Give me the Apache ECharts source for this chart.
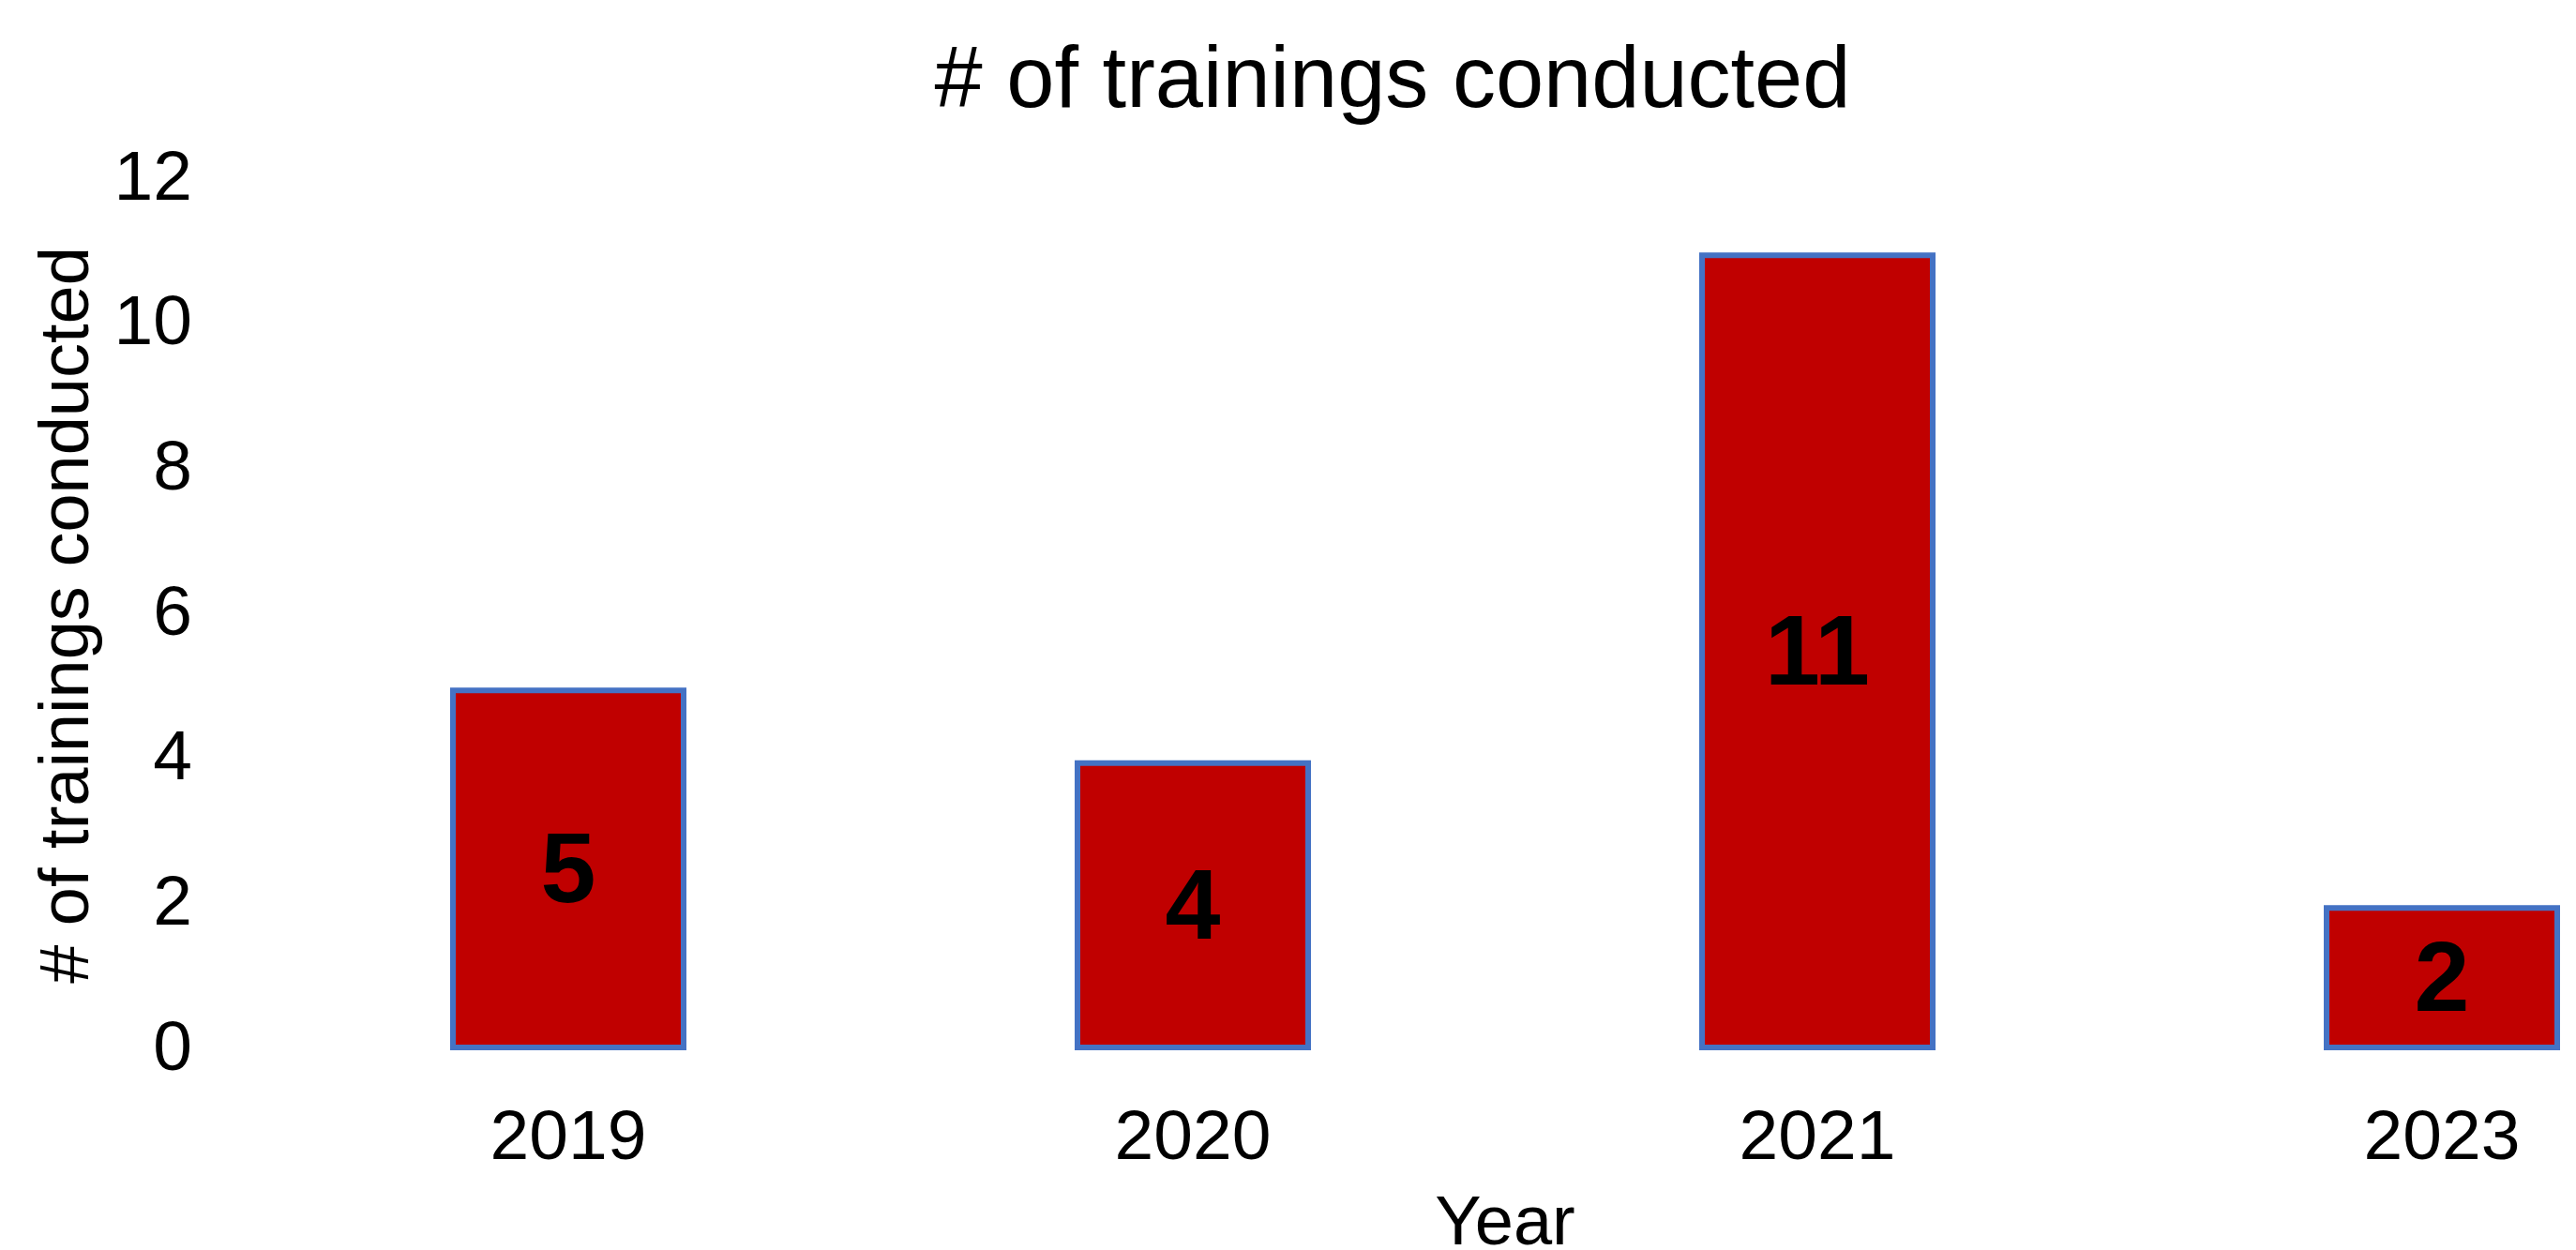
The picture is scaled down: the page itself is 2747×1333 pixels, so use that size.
<!DOCTYPE html>
<html>
<head>
<meta charset="utf-8">
<script src="https://cdn.jsdelivr.net/npm/echarts@6/dist/echarts.min.js"></script>
<style>
  html, body { margin: 0; padding: 0; background: #fff; }
  #chart { width: 2747px; height: 1333px; }
</style>
</head>
<body>
<div id="chart"></div>
<script>
const years = ["2019", "2020", "2021", "2023"];
const trainings = [5, 4, 11, 2];
const yTicks = [0, 2, 4, 6, 8, 10, 12];

const font = "'Liberation Sans', Arial, sans-serif";
const chart = echarts.init(document.getElementById("chart"), null, { renderer: "canvas" });

chart.setOption({
  animation: false,
  backgroundColor: "#fff",
  textStyle: { fontFamily: font },
  title: {
    text: "# of trainings conducted",
    left: 1480,
    top: 38,
    textAlign: "center",
    textStyle: { fontFamily: font, fontSize: 92, fontWeight: "normal", color: "#000" }
  },
  // the axes run past the right edge of the picture, like the cropped original
  grid: { left: 273, top: 192, width: 2664, height: 928, outerBoundsMode: "none", containLabel: false },
  xAxis: {
    type: "category",
    data: years,
    name: "Year",
    nameLocation: "middle",
    nameGap: 150,
    nameTextStyle: { fontFamily: font, fontSize: 74, color: "#000" },
    axisLine: { show: false },
    axisTick: { show: false },
    axisLabel: { fontFamily: font, fontSize: 75, color: "#000", margin: 58 }
  },
  yAxis: {
    type: "value",
    min: yTicks[0],
    max: yTicks[yTicks.length - 1],
    interval: 2,
    name: "# of trainings conducted",
    nameLocation: "middle",
    nameGap: 152,
    nameTextStyle: { fontFamily: font, fontSize: 74, color: "#000" },
    axisLine: { show: false },
    axisTick: { show: false },
    splitLine: { show: false },
    axisLabel: { fontFamily: font, fontSize: 75, color: "#000", margin: 68 }
  },
  series: [
    {
      type: "bar",
      data: trainings,
      barWidth: 252,
      itemStyle: { color: "#C00000", borderColor: "#4472C4", borderWidth: 6 },
      label: {
        show: true,
        position: "inside",
        offset: [0, 6],
        fontFamily: font,
        fontSize: 106,
        fontWeight: "bold",
        color: "#000"
      }
    }
  ]
});
</script>
</body>
</html>
